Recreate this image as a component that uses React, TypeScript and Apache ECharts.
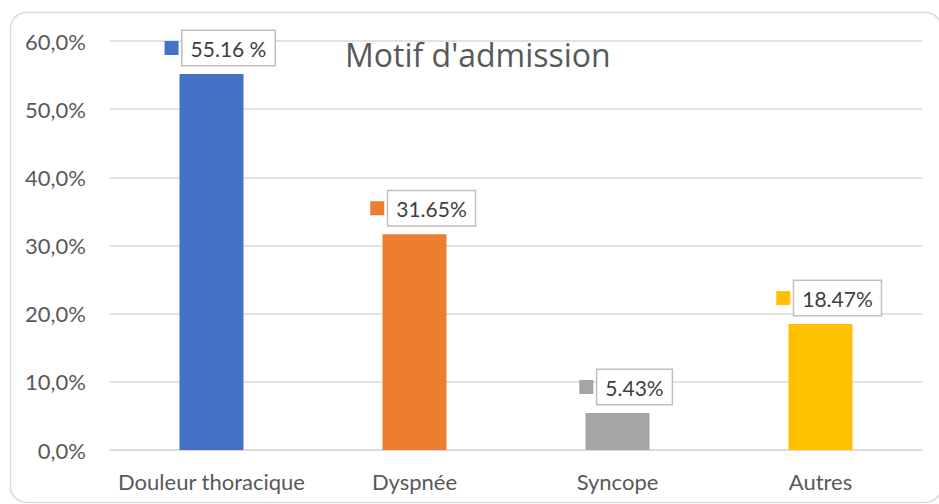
import React, { useEffect, useRef } from "react";
import * as echarts from "echarts";

const categories = ["Douleur thoracique", "Dyspnée", "Syncope", "Autres"];
const values = [55.16, 31.65, 5.43, 18.47];
const valueLabels = ["55.16 %", "31.65%", "5.43%", "18.47%"];
const colors = ["#4472C4", "#ED7D31", "#A5A5A5", "#FFC000"];
const titleText = "Motif d'admission";

const FONT = "Lato";

export default function App() {
  const ref = useRef<HTMLDivElement>(null);
  useEffect(() => {
    if (!ref.current) return;
    const chart = echarts.init(ref.current, null, { renderer: "svg" });
    chart.setOption({
      animation: false,
      backgroundColor: "#ffffff",
      title: {
        text: titleText,
        left: 345,
        top: 38,
        padding: 0,
        textStyle: { fontSize: 32, fontWeight: "normal", color: "#595959", fontFamily: "Open Sans" },
      },
      graphic: [
        {
          type: "rect",
          shape: { x: 10.5, y: 12.5, width: 931, height: 490, r: 16 },
          style: { fill: "none", stroke: "#d9d9d9", lineWidth: 1.5 },
          z: 100,
        },
      ],
      grid: { left: 110, right: 17, top: 41, bottom: 54, containLabel: false },
      xAxis: {
        type: "category",
        data: categories,
        axisLine: { show: true, lineStyle: { color: "#d9d9d9", width: 1.5 } },
        axisTick: { show: false },
        axisLabel: { color: "#595959", fontSize: 22, fontFamily: FONT, margin: 20, interval: 0 },
      },
      yAxis: {
        type: "value",
        min: 0,
        max: 60,
        interval: 10,
        axisLine: { show: false },
        axisTick: { show: false },
        splitLine: { lineStyle: { color: "#d9d9d9", width: 1.5 } },
        axisLabel: {
          color: "#595959",
          fontSize: 22,
          fontFamily: FONT,
          margin: 24,
          formatter: (v: number) => v.toFixed(1).replace(".", ",") + "%",
        },
      },
      series: [
        {
          type: "bar",
          barWidth: 64,
          data: values.map((v, i) => ({
            value: v,
            itemStyle: { color: colors[i] },
            label: {
              show: true,
              position: "top",
              distance: 9,
              offset: [8, 0],
              formatter: () => "{sq| }{gap| }{b|" + valueLabels[i] + "}",
              rich: {
                sq: { width: 14, height: 14, backgroundColor: colors[i], verticalAlign: "middle" },
                gap: { width: 4, verticalAlign: "middle" },
                b: {
                  fontSize: 21,
                  fontFamily: FONT,
                  color: "#404040",
                  backgroundColor: "#ffffff",
                  borderColor: "#bfbfbf",
                  borderWidth: 1.5,
                  padding: [7, 8, 6, 8],
                  verticalAlign: "middle",
                },
              },
            },
          })),
        },
      ],
    });
    return () => chart.dispose();
  }, []);
  return (
    <div
      ref={ref}
      style={{ position: "fixed", left: 0, top: 0, width: 939, height: 504 }}
    />
  );
}
